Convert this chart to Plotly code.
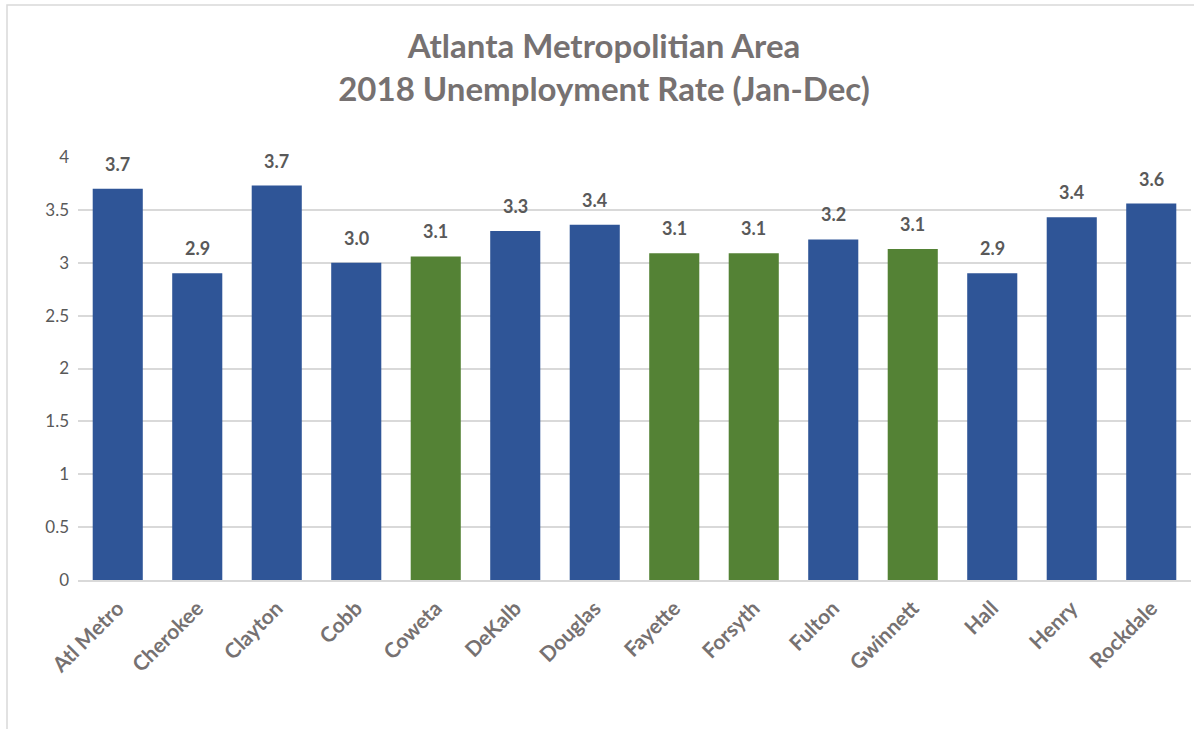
import plotly.graph_objects as go

# 2018 average unemployment rate by county, Atlanta metro
counties = ["Atl Metro", "Cherokee", "Clayton", "Cobb", "Coweta", "DeKalb", "Douglas",
            "Fayette", "Forsyth", "Fulton", "Gwinnett", "Hall", "Henry", "Rockdale"]
rates = [3.70, 2.90, 3.73, 3.00, 3.06, 3.30, 3.36, 3.09, 3.09, 3.22, 3.13, 2.90, 3.43, 3.56]
groups = ["blue", "blue", "blue", "blue", "green", "blue", "blue",
          "green", "green", "blue", "green", "blue", "blue", "blue"]
y_ticks = [0, 0.5, 1, 1.5, 2, 2.5, 3, 3.5, 4]
y_tick_text = ["0", "0.5", "1", "1.5", "2", "2.5", "3", "3.5", "4"]

palette = {"blue": "#2F5597", "green": "#548235"}
FONT = "Lato"
GRAY = "#595959"

W, H = 1194, 729
ML, MR, MT, MB = 78, 3, 157, 149
pw, ph = W - ML - MR, H - MT - MB

fig = go.Figure(go.Bar(
    x=counties,
    y=rates,
    marker=dict(color=[palette[g] for g in groups], line=dict(width=0)),
    hoverinfo="x+y",
))

# value labels above each bar
for c, r in zip(counties, rates):
    fig.add_annotation(x=c, y=r, text=f"<b>{r:.1f}</b>", showarrow=False,
                       yanchor="middle", yshift=25,
                       font=dict(family=FONT, size=18, color=GRAY))

# light frame around the chart
fig.add_shape(type="rect", xref="paper", yref="paper",
              x0=(7 - ML) / pw, x1=(W + 10 - ML) / pw,
              y0=-(H + 10 - (H - MB)) / ph, y1=(H - MB - 5) / ph,
              line=dict(color="#D9D9D9", width=1.5), fillcolor="rgba(0,0,0,0)",
              layer="below")

fig.update_layout(
    width=W, height=H,
    margin=dict(l=ML, r=MR, t=MT, b=MB),
    paper_bgcolor="white", plot_bgcolor="white",
    bargap=0.37,
    showlegend=False,
    title=dict(text="<b>Atlanta Metropolitian Area<br>2018 Unemployment Rate (Jan-Dec)</b>",
               x=604 / W, xref="container", xanchor="center", y=1 - 58 / H, yanchor="middle",
               font=dict(family=FONT, size=33, color="#767171")),
    yaxis=dict(range=[0, 4], tickvals=y_ticks, ticktext=y_tick_text,
               showgrid=True, gridcolor="#D9D9D9", gridwidth=1.5,
               zeroline=False, showline=False,
               tickfont=dict(family=FONT, size=17, color=GRAY), ticks="",
               ticklabelstandoff=8),
    xaxis=dict(tickangle=-45, showline=True, linecolor="#D9D9D9", linewidth=1.5,
               tickfont=dict(family=FONT, size=21, color="#767171", weight="bold"),
               ticks="", ticklabelstandoff=6),
    font=dict(family=FONT),
)

fig.write_html("out.html")
